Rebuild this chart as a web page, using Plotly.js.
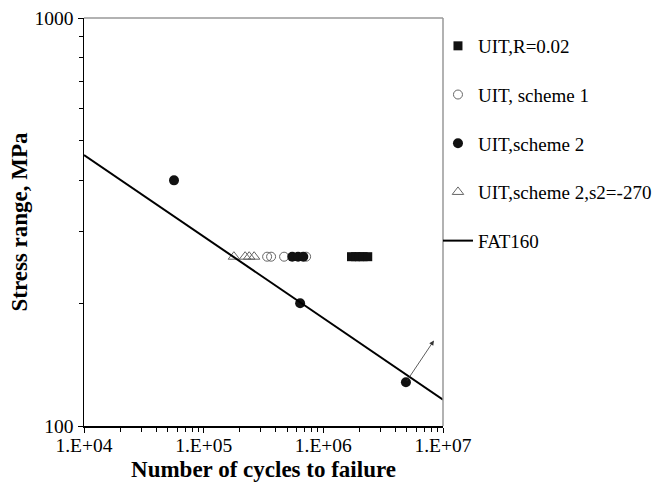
<!DOCTYPE html>
<html>
<head>
<meta charset="utf-8">
<script src="https://cdn.plot.ly/plotly-3.0.1.min.js"></script>
<style>
  html, body { margin: 0; padding: 0; background: #fff; }
  #chart { width: 664px; height: 486px; }
</style>
</head>
<body>
<div id="chart"></div>
<script>
// Fatigue test results: stress range vs. cycles to failure (log-log)
const uitR002N = [1.72e6, 1.86e6, 2.0e6, 2.15e6, 2.35e6];
const uitR002S = [260, 260, 260, 260, 260];

const scheme1N = [3.39e5, 3.66e5, 4.7e5, 7.18e5];
const scheme1S = [260, 260, 260, 260];

const scheme2N = [5.65e4, 5.5e5, 6.15e5, 6.8e5, 6.4e5, 4.9e6];
const scheme2S = [400, 260, 260, 260, 200, 128];

const scheme2s2N = [1.79e5, 2.22e5, 2.4e5, 2.64e5];
const scheme2s2S = [260, 260, 260, 260];

// FAT160 design curve (slope m = 5), end points of the plotted range
const fatN = [1e4, 1e7];
const fatS = [461.6, 116.0];

// Run-out arrow from the longest-life specimen
const runoutTip = [8.4e6, 162];

const xTickVals = [1e4, 1e5, 1e6, 1e7];
const xTickText = ['1.E+04', '1.E+05', '1.E+06', '1.E+07'];
const yTickVals = [100, 1000];
const yTickText = ['100', '1000'];

const serif = 'Liberation Serif, Times New Roman, serif';

const traces = [
  {
    x: uitR002N, y: uitR002S, name: 'UIT,R=0.02', mode: 'markers', type: 'scatter',
    legendgroup: 'a',
    marker: { symbol: 'square', size: 9, color: '#111' }
  },
  {
    x: scheme1N, y: scheme1S, name: 'UIT, scheme 1', mode: 'markers', type: 'scatter',
    legendgroup: 'b',
    marker: { symbol: 'circle-open', size: 9, color: '#666', line: { width: 1 } }
  },
  {
    x: scheme2N, y: scheme2S, name: 'UIT,scheme 2', mode: 'markers', type: 'scatter',
    legendgroup: 'c',
    marker: { symbol: 'circle', size: 10, color: '#111' }
  },
  {
    x: scheme2s2N, y: scheme2s2S, name: 'UIT,scheme 2,s2=-270', mode: 'markers', type: 'scatter',
    legendgroup: 'd',
    marker: { symbol: 'triangle-up-open', size: 10, color: '#666', line: { width: 1 } }
  },
  {
    x: fatN, y: fatS, name: 'FAT160', mode: 'lines', type: 'scatter',
    legendgroup: 'e',
    line: { color: '#000', width: 2 }
  }
];

const layout = {
  width: 664, height: 486,
  margin: { l: 84, r: 221, t: 18, b: 60, autoexpand: false },
  paper_bgcolor: '#fff', plot_bgcolor: '#fff',
  font: { family: serif, color: '#000', size: 19 },
  showlegend: true,
  legend: {
    x: 0.986, xanchor: 'left', y: 0.978, yanchor: 'top',
    traceorder: 'grouped', tracegroupgap: 21,
    font: { family: serif, size: 19, color: '#000' },
    bgcolor: 'rgba(0,0,0,0)'
  },
  xaxis: {
    type: 'log', range: [4, 7],
    tickmode: 'array', tickvals: xTickVals, ticktext: xTickText,
    ticks: 'outside', ticklen: 5, tickcolor: '#000', tickwidth: 1,
    ticklabelstandoff: -4,
    minor: { ticks: 'outside', ticklen: 4, tickcolor: '#000', tickwidth: 1, dtick: 'D1', showgrid: false },
    showgrid: false, zeroline: false,
    showline: true, linecolor: '#000', linewidth: 1.5,
    tickfont: { family: serif, size: 19.5 },
    title: { text: '<b>Number of cycles to failure</b>', font: { family: serif, size: 23 }, standoff: 6 }
  },
  yaxis: {
    type: 'log', range: [2, 3],
    tickmode: 'array', tickvals: yTickVals, ticktext: yTickText,
    ticks: 'outside', ticklen: 5, tickcolor: '#000', tickwidth: 1,
    minor: { ticks: 'outside', ticklen: 4, tickcolor: '#000', tickwidth: 1, dtick: 'D1', showgrid: false },
    showgrid: false, zeroline: false,
    showline: true, linecolor: '#000', linewidth: 1.5,
    tickfont: { family: serif, size: 19.5 },
    title: { text: '<b>Stress range, MPa</b>', font: { family: serif, size: 23 }, standoff: 0 }
  },
  shapes: [
    { type: 'line', xref: 'paper', yref: 'paper', x0: 0, x1: 1, y0: 1, y1: 1, line: { color: '#999', width: 1.5 } },
    { type: 'line', xref: 'paper', yref: 'paper', x0: 1, x1: 1, y0: 0, y1: 1, line: { color: '#999', width: 1.5 } }
  ],
  annotations: [
    {
      xref: 'x', yref: 'y', axref: 'x', ayref: 'y',
      x: Math.log10(runoutTip[0]), y: Math.log10(runoutTip[1]),
      ax: Math.log10(scheme2N[5]), ay: Math.log10(scheme2S[5]),
      text: '', showarrow: true, arrowhead: 2, arrowsize: 1.2, arrowwidth: 0.8, arrowcolor: '#333'
    }
  ]
};

Plotly.newPlot('chart', traces, layout, { staticPlot: true, displayModeBar: false });
</script>
</body>
</html>
